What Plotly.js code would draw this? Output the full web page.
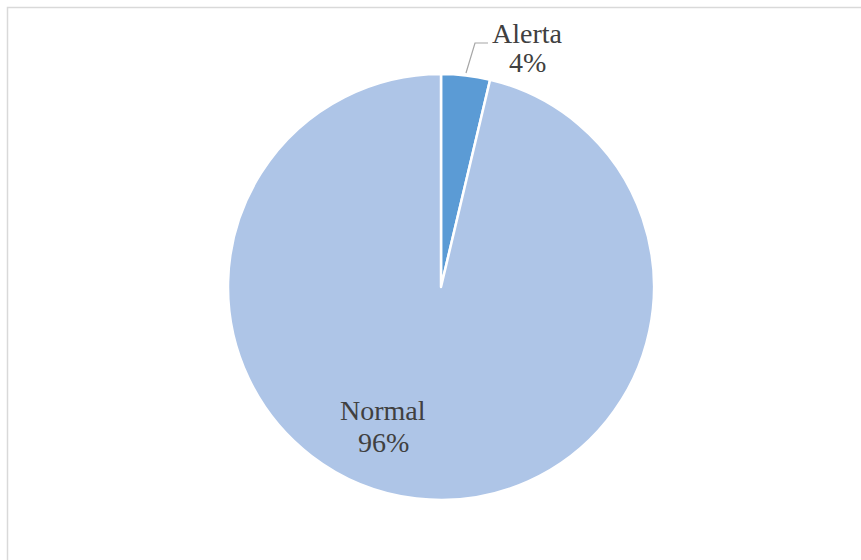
<!DOCTYPE html>
<html><head><meta charset="utf-8">
<script src="https://cdn.plot.ly/plotly-3.0.1.min.js"></script>
<style>html,body{margin:0;padding:0;background:#fff;overflow:hidden}#chart{width:861px;height:560px}</style>
</head><body><div id="chart"></div>
<script>
const labels = ["Alerta", "Normal"];
const values = [1, 26];
const colors = ["#5b9bd5", "#aec5e7"];
const pctText = ["4%", "96%"];

const W = 861, H = 560;
const px = x => x / W;
const py = y => 1 - y / H;
const cx = 441, cy = 287, r = 213;

const trace = {
  type: "pie",
  labels: labels,
  values: values,
  sort: false,
  direction: "clockwise",
  rotation: 0,
  textinfo: "none",
  hoverinfo: "label+percent",
  marker: {colors: colors, line: {color: "#ffffff", width: 2.5}},
  domain: {x: [px(cx - r), px(cx + r)], y: [py(cy + r), py(cy - r)]},
  showlegend: false
};

const font = {family: "Liberation Serif, Times New Roman, serif", size: 28, color: "#404040"};
// [x center, y of label line, y of percent line] in pixels
const labelPos = [[527, 33, 62], [383, 411, 442]];
const annotations = [];
labels.forEach((l, i) => {
  annotations.push({xref: "paper", yref: "paper", x: px(labelPos[i][0]), y: py(labelPos[i][1]),
    text: l, showarrow: false, font: font, xanchor: "center", yanchor: "middle"});
  annotations.push({xref: "paper", yref: "paper", x: px(labelPos[i][0]), y: py(labelPos[i][2]),
    text: pctText[i], showarrow: false, font: font, xanchor: "center", yanchor: "middle"});
});

const layout = {
  width: W, height: H,
  margin: {l: 0, r: 0, t: 0, b: 0},
  paper_bgcolor: "#ffffff",
  annotations: annotations,
  shapes: [
    {type: "path", xref: "paper", yref: "paper",
     path: `M ${px(466)} ${py(73)} L ${px(475)} ${py(43)} L ${px(488)} ${py(43)}`,
     line: {color: "#a6a6a6", width: 1.2}},
    {type: "rect", xref: "paper", yref: "paper",
     x0: px(7.5), y0: py(7.5), x1: 1.05, y1: -0.05,
     line: {color: "#d9d9d9", width: 1.5}, fillcolor: "rgba(0,0,0,0)"}
  ]
};

Plotly.newPlot("chart", [trace], layout, {displayModeBar: false, staticPlot: true});
</script></body></html>
